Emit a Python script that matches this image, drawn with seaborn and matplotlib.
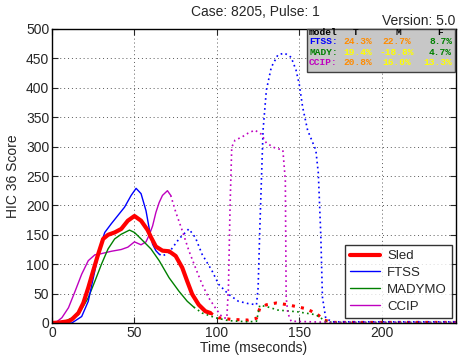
import numpy as np
import pandas as pd
import seaborn as sns
import matplotlib
matplotlib.use('Agg')
import matplotlib.pyplot as plt
from matplotlib.patches import Rectangle
from matplotlib.lines import Line2D

# ---- data ----
sled_t = [0, 5, 10, 12, 16, 19, 22, 25, 28, 31, 34, 38, 42, 46, 50, 54, 58, 60, 63, 67, 71, 75, 79, 82, 85, 89, 93, 96]
sled_v = [0, 1, 3, 6, 17, 34, 60, 89, 117, 143, 150, 154, 160, 174, 182, 174, 158, 146, 130, 123, 122, 114, 94, 71, 49, 31, 20, 17]
sled_dt = [96, 101, 109, 119, 124, 126, 130, 136, 143, 153, 160, 165, 170, 245]
sled_dv = [17, 9, 6, 5, 8, 25, 31, 34, 31, 25, 17, 5, 1, 1]

ftss_t = [0, 8, 12, 18, 22, 26, 29, 32, 36, 40, 44, 48, 51, 54, 57, 59, 61, 63, 65]
ftss_v = [0, 0, 0, 11, 37, 89, 129, 154, 169, 183, 197, 217, 229, 220, 191, 160, 134, 123, 117]
ftss_dt = [65, 67, 71, 77, 83, 87, 91, 97, 101, 107, 113, 119, 124, 125, 126, 128, 130, 133, 137, 141,
           145, 148, 150, 152, 155, 160, 161.5, 163, 164, 166, 170, 245]
ftss_dv = [117, 114, 120, 143, 160, 145, 117, 89, 66, 49, 37, 33, 31, 60, 158, 328, 396, 435, 456, 459,
           452, 430, 405, 367, 328, 294, 255, 150, 44, 8, 2, 2]

mady_t = [0, 8, 16, 22, 26, 30, 34, 38, 42, 47, 50, 54, 60, 65, 71, 77, 82, 86]
mady_v = [0, 3, 14, 43, 71, 100, 126, 143, 151, 158, 154, 143, 126, 106, 77, 54, 37, 27]
mady_dt = [86, 91, 99, 107, 119, 124, 126, 130, 137, 149, 160, 166, 170, 245]
mady_dv = [27, 17, 9, 4, 2, 3, 30, 28, 22, 19, 14, 3, 1, 1]

ccip_t = [0, 2, 6, 10, 14, 18, 22, 26, 30, 36, 42, 46, 50, 54, 57, 59, 61, 63, 65, 67, 70, 72]
ccip_v = [0, 0, 9, 26, 54, 83, 106, 116, 118, 122, 125, 129, 138, 133, 138, 150, 165, 188, 205, 217, 225, 217]
ccip_dt = [72, 75, 79, 83, 87, 91, 95, 99, 102, 104, 106, 107, 108, 109, 111, 115, 119, 123, 127, 130,
           135, 140, 141.5, 142, 143, 145, 170, 245]
ccip_dv = [217, 189, 157, 123, 94, 66, 43, 26, 14, 9, 8, 60, 200, 299, 311, 316, 323, 328, 321, 306,
           298, 294, 243, 44, 17, 3, 1, 1]

table_rows = ['FTSS:', 'MADY:', 'CCIP:']
table_cols = ['T', 'M', 'F']
table_vals = [['24.3%', '22.7%', '8.7%'],
              ['19.4%', '-18.8%', '4.7%'],
              ['20.8%', '16.0%', '13.3%']]

RED = (1, 0, 0)
BLUE = (0, 0, 1)
GREEN = (0, 0.5, 0)
MAGENTA = (0.75, 0, 0.75)
ORANGE = (1, 0.55, 0)
YELLOW = (1, 1, 0)
table_colors = [[ORANGE, ORANGE, GREEN],
                [YELLOW, YELLOW, GREEN],
                [ORANGE, YELLOW, YELLOW]]
row_colors = [BLUE, GREEN, MAGENTA]

sns.set_theme(style='ticks')
plt.rcParams['font.family'] = ['Liberation Sans', 'DejaVu Sans']
plt.rcParams['xtick.direction'] = 'in'
plt.rcParams['ytick.direction'] = 'in'

fig = plt.figure(figsize=(4.58, 3.6), dpi=100)
ax = fig.add_axes([52 / 458, 37 / 360, 404 / 458, 294 / 360])

series = [
    ('Sled', sled_t, sled_v, sled_dt, sled_dv, RED, 3.0, 2.2),
    ('FTSS', ftss_t, ftss_v, ftss_dt, ftss_dv, BLUE, 1.0, 1.2),
    ('MADYMO', mady_t, mady_v, mady_dt, mady_dv, GREEN, 1.0, 1.2),
    ('CCIP', ccip_t, ccip_v, ccip_dt, ccip_dv, MAGENTA, 1.0, 1.2),
]

handles = []
# dotted continuations first, solid on top
for name, t, v, dt, dv, col, lw, dlw in series:
    sns.lineplot(x=dt, y=dv, ax=ax, color=col, lw=dlw, linestyle=(0, (1, 2)),
                 estimator=None, sort=False, legend=False)
for name, t, v, dt, dv, col, lw, dlw in series[::-1]:
    sns.lineplot(x=t, y=v, ax=ax, color=col, lw=lw,
                 estimator=None, sort=False, legend=False)
for name, t, v, dt, dv, col, lw, dlw in series:
    handles.append(Line2D([], [], color=col, lw=lw, label=name))

ax.set_xlim(0, 245)
ax.set_ylim(0, 500)
ax.set_xticks([0, 50, 100, 150, 200])
ax.set_yticks(np.arange(0, 501, 50))
ax.tick_params(labelsize=10, length=4, width=0.8, top=True, right=True, pad=2)
ax.grid(True, color='0.35', linestyle=(0, (1, 3)), lw=0.7)
for s in ax.spines.values():
    s.set_color('black')
    s.set_linewidth(1.0)
ax.set_xlabel('Time (mseconds)', fontsize=10, labelpad=1)
ax.set_ylabel('HIC 36 Score', fontsize=10, labelpad=4)

leg = ax.legend(handles=handles, loc='lower right', bbox_to_anchor=(0.99, 0.017),
                borderaxespad=0, fontsize=9.5, frameon=True, fancybox=False,
                handlelength=2.3, labelspacing=0.35, borderpad=0.4, handletextpad=0.5)
leg.get_frame().set_edgecolor('black')
leg.get_frame().set_linewidth(1.0)

fig.text(255 / 458, 1 - 12 / 360, 'Case: 8205, Pulse: 1', ha='center', va='center', fontsize=10)
fig.text(455 / 458, 1 - 21 / 360, 'Version: 5.0', ha='right', va='center', fontsize=10)

# score table box
fig.patches.append(Rectangle((307 / 458, 1 - 72 / 360), 148 / 458, 43 / 360,
                             transform=fig.transFigure, facecolor=(0.78, 0.78, 0.78),
                             edgecolor='0.25', lw=1.0, zorder=5))
mono = dict(family=['Liberation Mono', 'DejaVu Sans Mono'], fontsize=6.8, weight='bold', zorder=6)
row_y = [42, 52.3, 62.7]
col_x = [358, 397, 452]
fig.text(309 / 458, 1 - 32.5 / 360, 'model', ha='left', va='center', color='black', **mono)
for cx, c in zip([356, 398, 440], table_cols):
    fig.text(cx / 458, 1 - 32.5 / 360, c, ha='center', va='center', color='black', **mono)
for i, r in enumerate(table_rows):
    fig.text(309 / 458, 1 - row_y[i] / 360, r, ha='left', va='center', color=row_colors[i], **mono)
    for j in range(3):
        ha = 'right' if j == 2 else 'center'
        fig.text(col_x[j] / 458, 1 - row_y[i] / 360, table_vals[i][j], ha=ha, va='center',
                 color=table_colors[i][j], **mono)

plt.savefig('out.png', dpi=100)
plt.close()
